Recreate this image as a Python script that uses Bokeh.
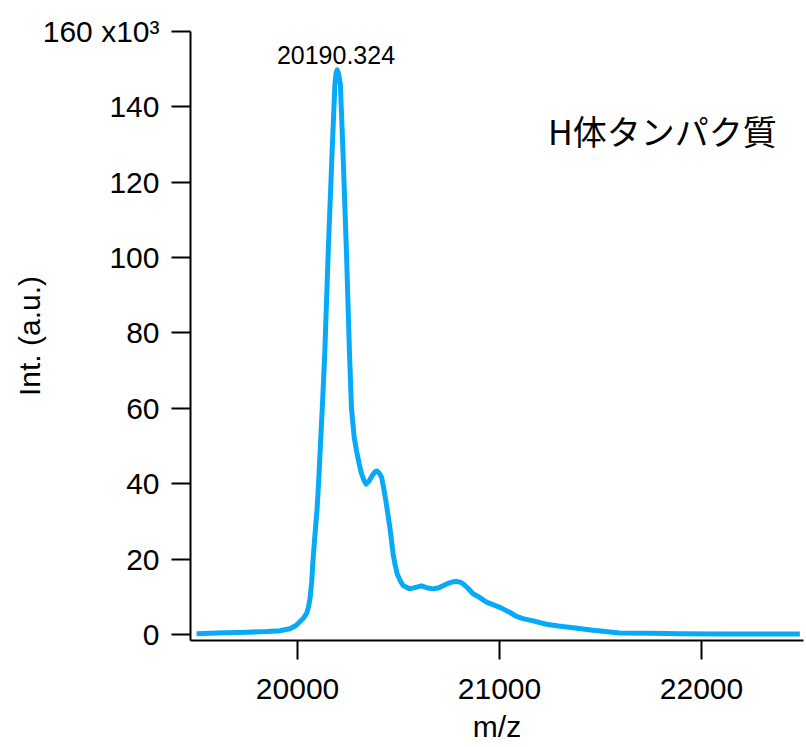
from bokeh.plotting import figure
from bokeh.models import Label, FixedTicker, CustomJSTickFormatter, Range1d
from bokeh.embed import file_html
from bokeh.resources import INLINE

# m/z values and intensity (counts)
mz = [19500, 19600, 19750, 19850, 19912, 19962, 19990, 20010, 20030, 20045,
      20055, 20063, 20070, 20077, 20087, 20097, 20105, 20114, 20125, 20135,
      20152, 20171, 20185, 20191, 20196, 20202, 20212, 20225, 20242, 20257,
      20267, 20280, 20292, 20305, 20317, 20330, 20340,
      20355, 20370, 20385, 20394, 20405, 20416, 20426, 20437, 20447, 20457,
      20465, 20473, 20483, 20493, 20508, 20523, 20540, 20556, 20585, 20614,
      20640, 20671, 20700, 20738, 20765, 20787, 20805, 20820, 20845, 20869,
      20902, 20936, 21001, 21050, 21084, 21116, 21166, 21232, 21300, 21364,
      21463, 21595, 21750, 21892, 22100, 22300, 22487]
intensity = [200, 400, 600, 800, 1000, 1500, 2300, 3300, 4400, 5600,
             7500, 10000, 14000, 20000, 27000, 33500, 41000, 51000, 63000, 75000,
             101700, 128000, 146000, 149000, 149800, 149000, 146000, 128000, 101700, 75000,
             60000, 52500, 48700, 45300, 42600, 40800, 39900,
             40800, 42200, 43200, 43400, 42800, 41700, 39000, 35500, 32000, 28400,
             25000, 21400, 18500, 16100, 14300, 13000, 12500, 12100, 12500, 12900,
             12400, 12100, 12400, 13400, 13900, 14100, 13900, 13400, 12200, 10800,
             9800, 8600, 7200, 5900, 4800, 4200, 3600, 2700, 2200, 1800,
             1100, 400, 300, 200, 150, 120, 100]

peak_mz = 20190.324
peak_int = 149800
sample_name = "H体タンパク質"

x_ticks = [20000, 21000, 22000]
y_ticks = [0, 20000, 40000, 60000, 80000, 100000, 120000, 140000, 160000]

FONT = "Liberation Sans"

p = figure(width=804, height=745, output_backend="svg", toolbar_location=None,
           x_range=Range1d(19470, 22505), y_range=Range1d(-1600, 160000),
           min_border_left=190, min_border_right=1, min_border_top=31,
           min_border_bottom=105)
p.background_fill_color = "white"
p.border_fill_color = "white"
p.outline_line_color = None
p.xgrid.visible = False
p.ygrid.visible = False

p.line(mz, intensity, line_color="#08AAF8", line_width=5, line_join="round")

for ax in (p.xaxis[0], p.yaxis[0]):
    ax.axis_line_color = "black"
    ax.axis_line_width = 2
    ax.major_tick_line_color = "black"
    ax.major_tick_line_width = 2
    ax.major_tick_out = 19
    ax.major_tick_in = 0
    ax.minor_tick_line_color = None
    ax.major_label_text_font = FONT
    ax.major_label_text_font_size = "30px"
    ax.major_label_text_color = "black"
    ax.axis_label_text_font = FONT
    ax.axis_label_text_font_size = "30px"
    ax.axis_label_text_font_style = "normal"
    ax.axis_label_text_color = "black"

p.xaxis.ticker = FixedTicker(ticks=x_ticks)
p.yaxis.ticker = FixedTicker(ticks=y_ticks)
p.xaxis.major_label_standoff = 19
p.yaxis.major_label_standoff = 12
p.yaxis.formatter = CustomJSTickFormatter(code="""
const v = Math.round(tick / 1000);
return v == 160 ? "160 x10\u00B3" : v.toString();
""")
p.xaxis.formatter = CustomJSTickFormatter(code="return tick.toFixed(0);")
p.xaxis.axis_label = "m/z"
p.yaxis.axis_label = "Int. (a.u.)"
p.xaxis.axis_label_standoff = 8
p.yaxis.axis_label_standoff = -6

p.add_layout(Label(x=peak_mz, y=peak_int, text="%.3f" % peak_mz,
                   text_align="center", text_baseline="alphabetic", y_offset=15,
                   text_font=FONT, text_font_size="25px", text_color="black"))
p.add_layout(Label(x=21240, y=133800, text=sample_name,
                   text_align="left", text_baseline="alphabetic",
                   text_font="Noto Sans CJK JP", text_font_size="34px",
                   text_color="black"))

open("out.html", "w").write(file_html(p, INLINE))
